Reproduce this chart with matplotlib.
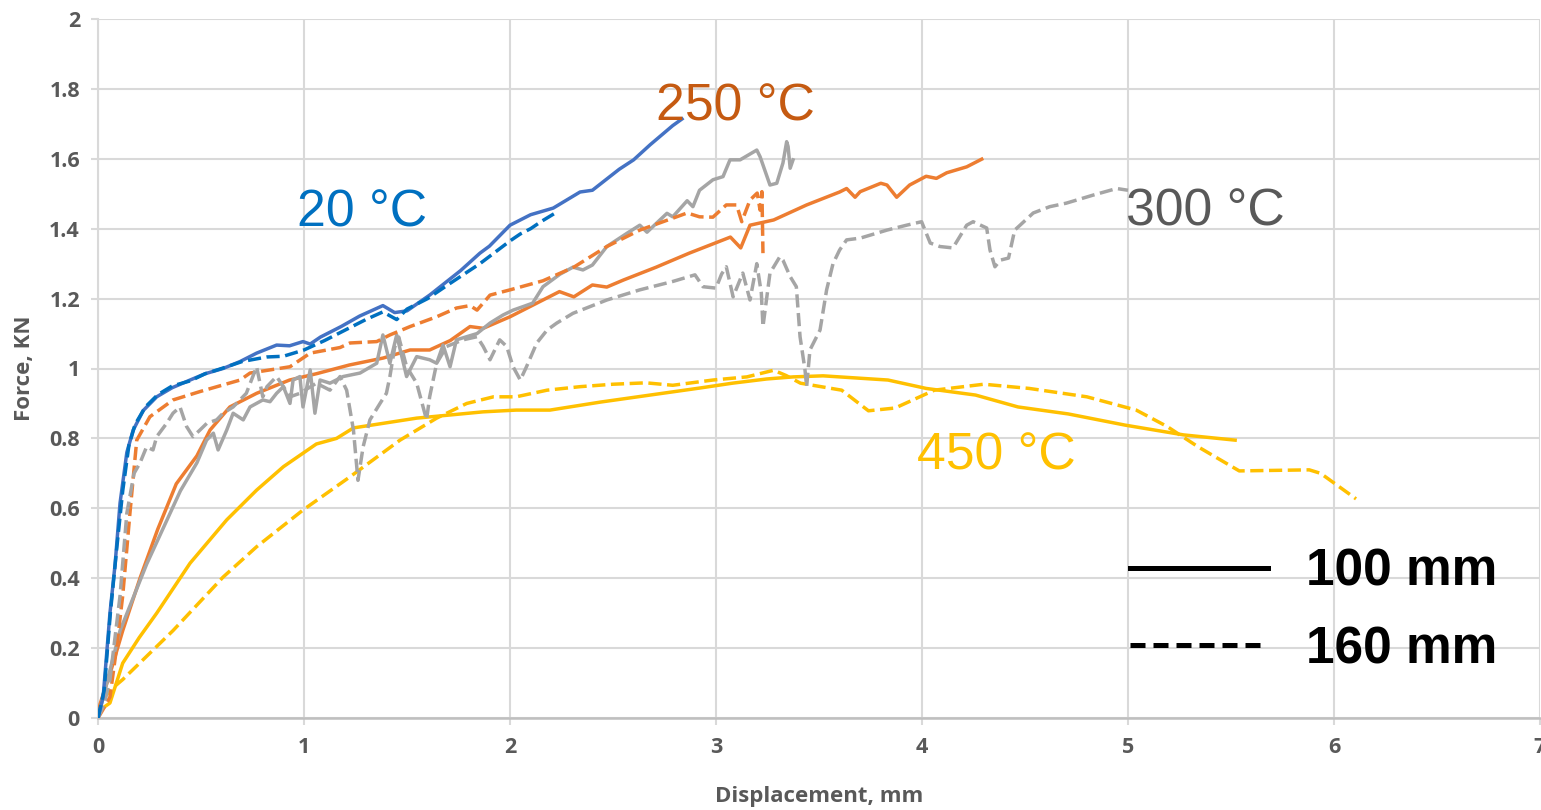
import matplotlib
matplotlib.use("Agg")
import matplotlib.pyplot as plt
from matplotlib.lines import Line2D

# Force-displacement curves (displacement in mm, force in kN)
c20_100 = [(0, 0), (0.025, 0.06), (0.058, 0.30), (0.083, 0.44), (0.107, 0.615), (0.14, 0.76),
           (0.171, 0.824), (0.22, 0.88), (0.285, 0.919), (0.36, 0.945), (0.447, 0.967), (0.52, 0.985),
           (0.607, 1.0), (0.69, 1.02), (0.77, 1.044), (0.867, 1.067), (0.93, 1.065), (0.995, 1.077),
           (1.03, 1.07), (1.08, 1.09), (1.18, 1.12), (1.27, 1.15), (1.383, 1.18), (1.44, 1.16),
           (1.5, 1.165), (1.61, 1.21), (1.76, 1.28), (1.854, 1.33), (1.9, 1.35), (2.0, 1.41),
           (2.05, 1.425), (2.1, 1.44), (2.21, 1.459), (2.34, 1.505), (2.40, 1.51), (2.53, 1.57),
           (2.6, 1.597), (2.68, 1.64), (2.79, 1.695), (2.835, 1.714)]

c20_160 = [(0, 0), (0.03, 0.08), (0.06, 0.3), (0.09, 0.48), (0.12, 0.65), (0.15, 0.78),
           (0.18, 0.84), (0.23, 0.89), (0.29, 0.925), (0.36, 0.95), (0.45, 0.965), (0.52, 0.985),
           (0.6, 1.0), (0.7, 1.02), (0.82, 1.033), (0.9, 1.035), (1.0, 1.053), (1.1, 1.08),
           (1.2, 1.11), (1.3, 1.14), (1.383, 1.162), (1.45, 1.14), (1.5, 1.17), (1.6, 1.20),
           (1.7, 1.24), (1.854, 1.30), (2.0, 1.365), (2.05, 1.385), (2.1, 1.40), (2.15, 1.42),
           (2.22, 1.445)]

c250_100 = [(0, 0), (0.01, 0.04), (0.06, 0.13), (0.12, 0.25), (0.204, 0.40), (0.29, 0.54),
            (0.38, 0.67), (0.48, 0.75), (0.544, 0.824), (0.64, 0.89), (0.77, 0.929), (0.93, 0.967),
            (1.06, 0.985), (1.22, 1.01), (1.385, 1.03), (1.515, 1.053), (1.61, 1.053), (1.71, 1.08),
            (1.806, 1.12), (1.87, 1.115), (2.0, 1.148), (2.16, 1.196), (2.24, 1.22), (2.31, 1.205),
            (2.40, 1.239), (2.47, 1.233), (2.55, 1.253), (2.71, 1.29), (2.87, 1.33), (3.07, 1.376),
            (3.12, 1.345), (3.165, 1.41), (3.28, 1.425), (3.44, 1.468), (3.60, 1.505), (3.634, 1.515),
            (3.675, 1.49), (3.70, 1.506), (3.80, 1.53), (3.83, 1.525), (3.877, 1.49), (3.94, 1.525),
            (4.02, 1.55), (4.07, 1.544), (4.12, 1.56), (4.217, 1.577), (4.29, 1.599)]

c250_160 = [(0, 0), (0.03, 0.03), (0.058, 0.06), (0.09, 0.2), (0.12, 0.35), (0.155, 0.586),
            (0.188, 0.795), (0.252, 0.862), (0.364, 0.91), (0.495, 0.934), (0.69, 0.967),
            (0.738, 0.987), (0.932, 1.005), (1.03, 1.044), (1.175, 1.06), (1.223, 1.073),
            (1.353, 1.077), (1.417, 1.096), (1.515, 1.12), (1.644, 1.148), (1.74, 1.173),
            (1.806, 1.18), (1.84, 1.167), (1.903, 1.21), (2.0, 1.225), (2.16, 1.251), (2.31, 1.29),
            (2.47, 1.349), (2.63, 1.396), (2.79, 1.43), (2.86, 1.445), (2.92, 1.434), (2.985, 1.433),
            (3.05, 1.468), (3.10, 1.468), (3.125, 1.42), (3.165, 1.482), (3.20, 1.502),
            (3.214, 1.453), (3.223, 1.506), (3.228, 1.33)]

c300_100 = [(0, 0), (0.025, 0.06), (0.107, 0.25), (0.236, 0.44), (0.40, 0.65), (0.48, 0.73),
            (0.527, 0.795), (0.56, 0.815), (0.583, 0.767), (0.625, 0.824), (0.656, 0.872),
            (0.705, 0.853), (0.738, 0.89), (0.80, 0.91), (0.835, 0.905), (0.867, 0.929),
            (0.90, 0.948), (0.932, 0.90), (0.947, 0.967), (0.98, 0.977), (0.995, 0.89),
            (1.03, 0.996), (1.053, 0.872), (1.078, 0.967), (1.126, 0.958), (1.19, 0.977),
            (1.272, 0.987), (1.353, 1.015), (1.383, 1.096), (1.417, 1.015), (1.45, 1.096),
            (1.498, 0.977), (1.547, 1.034), (1.61, 1.025), (1.644, 1.015), (1.675, 1.067),
            (1.709, 1.005), (1.74, 1.082), (1.79, 1.091), (1.84, 1.10), (1.903, 1.13),
            (1.966, 1.153), (2.015, 1.167), (2.063, 1.177), (2.11, 1.187), (2.16, 1.234),
            (2.243, 1.27), (2.306, 1.29), (2.354, 1.282), (2.40, 1.296), (2.47, 1.349),
            (2.568, 1.387), (2.63, 1.41), (2.665, 1.39), (2.762, 1.444), (2.79, 1.434),
            (2.86, 1.48), (2.888, 1.463), (2.92, 1.51), (2.985, 1.54), (3.034, 1.549),
            (3.068, 1.597), (3.117, 1.597), (3.198, 1.625), (3.214, 1.606), (3.262, 1.525),
            (3.295, 1.53), (3.325, 1.588), (3.343, 1.649), (3.35, 1.635), (3.36, 1.573),
            (3.374, 1.597)]

c300_160 = [(0, 0), (0.03, 0.04), (0.058, 0.11), (0.107, 0.35), (0.14, 0.586), (0.175, 0.70),
            (0.204, 0.73), (0.236, 0.776), (0.267, 0.767), (0.285, 0.805), (0.333, 0.843),
            (0.364, 0.872), (0.398, 0.89), (0.43, 0.834), (0.461, 0.805), (0.495, 0.824),
            (0.528, 0.843), (0.576, 0.853), (0.607, 0.872), (0.656, 0.89), (0.72, 0.929),
            (0.77, 1.005), (0.80, 0.919), (0.82, 0.948), (0.867, 0.977), (0.90, 0.948),
            (0.932, 0.919), (0.98, 0.929), (1.06, 0.958), (1.126, 0.938), (1.175, 0.977),
            (1.207, 0.938), (1.24, 0.824), (1.262, 0.68), (1.287, 0.776), (1.32, 0.853),
            (1.369, 0.90), (1.40, 0.929), (1.417, 0.977), (1.44, 1.06), (1.46, 1.09),
            (1.498, 1.005), (1.547, 0.958), (1.578, 0.89), (1.595, 0.853), (1.61, 0.919),
            (1.644, 1.015), (1.692, 1.063), (1.772, 1.082), (1.84, 1.091), (1.87, 1.063),
            (1.903, 1.025), (1.95, 1.082), (1.984, 1.063), (2.015, 1.005), (2.05, 0.967),
            (2.08, 1.005), (2.13, 1.073), (2.18, 1.11), (2.227, 1.13), (2.306, 1.158),
            (2.47, 1.196), (2.63, 1.225), (2.79, 1.249), (2.898, 1.268), (2.937, 1.234),
            (3.0, 1.23), (3.027, 1.27), (3.05, 1.291), (3.083, 1.205), (3.13, 1.273),
            (3.165, 1.196), (3.198, 1.30), (3.22, 1.216), (3.228, 1.12), (3.262, 1.273),
            (3.31, 1.32), (3.325, 1.31), (3.36, 1.263), (3.39, 1.234), (3.408, 1.091),
            (3.432, 0.996), (3.44, 0.948), (3.456, 1.053), (3.505, 1.11), (3.537, 1.225),
            (3.568, 1.30), (3.60, 1.339), (3.634, 1.368), (3.70, 1.373), (3.83, 1.396),
            (3.925, 1.41), (3.998, 1.42), (4.04, 1.359), (4.087, 1.349), (4.15, 1.345),
            (4.217, 1.41), (4.248, 1.42), (4.314, 1.402), (4.33, 1.339), (4.354, 1.291),
            (4.38, 1.31), (4.42, 1.316), (4.45, 1.396), (4.476, 1.41), (4.54, 1.445),
            (4.62, 1.463), (4.70, 1.473), (4.83, 1.496), (4.945, 1.515), (5.0, 1.51)]

c450_100 = [(0, 0), (0.01, 0.023), (0.058, 0.043), (0.12, 0.157), (0.2, 0.23), (0.285, 0.30),
            (0.447, 0.443), (0.625, 0.567), (0.77, 0.652), (0.90, 0.719), (1.06, 0.784),
            (1.158, 0.80), (1.24, 0.83), (1.383, 0.843), (1.547, 0.858), (1.709, 0.867),
            (1.87, 0.876), (2.03, 0.881), (2.194, 0.881), (2.44, 0.904), (2.68, 0.924),
            (2.92, 0.944), (3.08, 0.958), (3.246, 0.97), (3.375, 0.976), (3.52, 0.979),
            (3.835, 0.967), (4.02, 0.943), (4.26, 0.924), (4.466, 0.89), (4.71, 0.87),
            (4.986, 0.838), (5.27, 0.81), (5.52, 0.795)]

c450_160 = [(0, 0), (0.01, 0.043), (0.06, 0.08), (0.12, 0.11), (0.364, 0.25), (0.607, 0.403),
            (0.77, 0.49), (0.995, 0.595), (1.223, 0.69), (1.466, 0.795), (1.644, 0.858),
            (1.79, 0.90), (1.92, 0.919), (2.03, 0.919), (2.18, 0.938), (2.34, 0.948),
            (2.50, 0.955), (2.66, 0.959), (2.79, 0.952), (2.985, 0.967), (3.15, 0.976),
            (3.28, 0.995), (3.34, 0.98), (3.41, 0.958), (3.61, 0.938), (3.74, 0.879),
            (3.87, 0.887), (4.06, 0.938), (4.30, 0.955), (4.52, 0.943), (4.80, 0.919),
            (5.04, 0.881), (5.19, 0.834), (5.34, 0.776), (5.54, 0.707), (5.88, 0.71),
            (5.935, 0.70), (6.107, 0.627)]

x_ticks = [0, 1, 2, 3, 4, 5, 6, 7]
y_ticks = [0, 0.2, 0.4, 0.6, 0.8, 1.0, 1.2, 1.4, 1.6, 1.8, 2.0]
y_tick_labels = ["0", "0.2", "0.4", "0.6", "0.8", "1", "1.2", "1.4", "1.6", "1.8", "2"]

temp_labels = ["20 °C", "250 °C", "300 °C", "450 °C"]
temp_label_pos = [(0.964, 1.406), (2.709, 1.709), (4.99, 1.41), (3.974, 0.711)]
temp_label_colors = ["#0070C0", "#C55A11", "#595959", "#FFC000"]

legend_labels = ["100 mm", "160 mm"]

# ---- styling ----
LW = 2.5
DASH = (0, (3.8, 1.6))

series = [
    (c450_100, "#FFC000", "-"),
    (c450_160, "#FFC000", DASH),
    (c250_100, "#ED7D31", "-"),
    (c300_100, "#A5A5A5", "-"),
    (c250_160, "#ED7D31", DASH),
    (c300_160, "#A5A5A5", DASH),
    (c20_100, "#4472C4", "-"),
    (c20_160, "#0070C0", DASH),
]

fig = plt.figure(figsize=(15.41, 8.10), dpi=100)
ax = fig.add_axes([98 / 1541, 92 / 810, 1442 / 1541, 699 / 810])

for pts, color, ls in series:
    xs = [p[0] for p in pts]
    ys = [p[1] for p in pts]
    ax.plot(xs, ys, color=color, linestyle=ls, linewidth=LW,
            solid_joinstyle="round", dash_capstyle="butt", zorder=3)

ax.set_xlim(0, 7)
ax.set_ylim(0, 2)
ax.set_xticks(x_ticks)
ax.set_yticks(y_ticks)
ax.set_yticklabels(y_tick_labels)

grid_c = "#D9D9D9"
ax.grid(True, color=grid_c, linewidth=1.5, zorder=0)
ax.set_axisbelow(True)
for side in ["top", "right"]:
    ax.spines[side].set_visible(False)
ax.spines["left"].set_color(grid_c)
ax.spines["left"].set_linewidth(1.5)
ax.spines["bottom"].set_color("#BFBFBF")
ax.spines["bottom"].set_linewidth(1.8)

fam = ["Open Sans", "DejaVu Sans"]
ax.tick_params(axis="both", colors=grid_c, length=5, width=1.5, labelcolor="#595959")
ax.tick_params(axis="x", pad=9)
ax.tick_params(axis="y", pad=8)
for lab in ax.get_xticklabels() + ax.get_yticklabels():
    lab.set_fontfamily(fam)
    lab.set_fontweight("bold")
    lab.set_fontsize(15.5)

ax.set_xlabel("Displacement, mm", color="#595959", family=fam, weight="bold", size=16)
ax.set_ylabel("Force, KN", color="#595959", family=fam, weight="bold", size=16)
ax.xaxis.set_label_coords(0.5, -0.097)
ax.yaxis.set_label_coords(-0.044, 0.5)

for text, (tx, ty), col in zip(temp_labels, temp_label_pos, temp_label_colors):
    ax.text(tx, ty, text, color=col, fontsize=37.3,
            family=["Liberation Sans", "DejaVu Sans"], ha="left", va="baseline", zorder=5)

handles = [Line2D([], [], color="black", linewidth=3.6, linestyle="-"),
           Line2D([], [], color="black", linewidth=3.6, linestyle=(0, (3.0, 1.6)))]
leg = ax.legend(handles, legend_labels, loc="center left",
                bbox_to_anchor=((1130 - 98) / 1442, (718 - 611) / 699),
                frameon=False, borderpad=0, borderaxespad=0,
                handlelength=2.68, handletextpad=0.74, labelspacing=0.56,
                prop=dict(family=["Liberation Sans", "DejaVu Sans"], weight="bold", size=37))

fig.savefig("out.png", dpi=100, facecolor="white")
